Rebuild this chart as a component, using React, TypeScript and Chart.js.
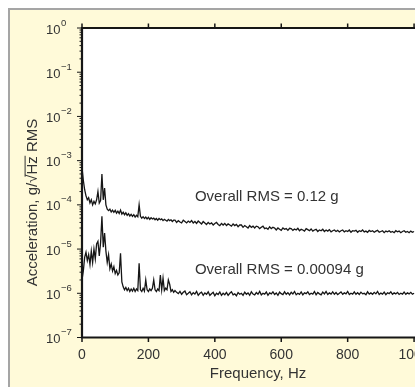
import React, { useEffect, useRef } from "react";
import { Chart, registerables } from "chart.js";

Chart.register(...registerables);

// Frequency axis (Hz)
const freqHz = [
  0, 4, 8, 12, 16, 20, 24, 28, 32, 36,
  40, 44, 48, 52, 56, 60, 64, 68, 72, 76,
  80, 84, 88, 92, 96, 100, 104, 108, 112, 116,
  120, 124, 128, 132, 136, 140, 144, 148, 152, 156,
  160, 164, 168, 172, 176, 180, 184, 188, 192, 196,
  200, 204, 208, 212, 216, 220, 224, 228, 232, 236,
  240, 244, 248, 252, 256, 260, 264, 268, 272, 276,
  280, 285, 290, 295, 300, 305, 310, 315, 320, 325,
  330, 335, 340, 345, 350, 355, 360, 365, 370, 375,
  380, 385, 390, 395, 400, 405, 410, 415, 420, 425,
  430, 435, 440, 445, 450, 455, 460, 465, 470, 475,
  480, 485, 490, 495, 500, 505, 510, 515, 520, 525,
  530, 535, 540, 545, 550, 555, 560, 565, 570, 575,
  580, 585, 590, 595, 600, 605, 610, 615, 620, 625,
  630, 635, 640, 645, 650, 655, 660, 665, 670, 675,
  680, 685, 690, 695, 700, 705, 710, 715, 720, 725,
  730, 735, 740, 745, 750, 755, 760, 765, 770, 775,
  780, 785, 790, 795, 800, 805, 810, 815, 820, 825,
  830, 835, 840, 845, 850, 855, 860, 865, 870, 875,
  880, 885, 890, 895, 900, 905, 910, 915, 920, 925,
  930, 935, 940, 945, 950, 955, 960, 965, 970, 975,
  980, 985, 990, 995, 1000,
];

// Upper spectrum (Overall RMS = 0.12 g), g/sqrt(Hz)
const upperAsd = [
  7.0e-4, 3.6e-4, 2.2e-4, 1.6e-4, 1.3e-4, 1.45e-4, 1.1e-4, 1.3e-4, 1.0e-4, 1.2e-4,
  1.05e-4, 1.3e-4, 2.0e-4, 1.1e-4, 1.25e-4, 5.0e-4, 1.3e-4, 2.4e-4, 1.0e-4, 8.0e-5,
  7.4e-5, 8.0e-5, 6.9e-5, 7.6e-5, 6.8e-5, 7.5e-5, 6.5e-5, 7.2e-5, 6.4e-5, 7.6e-5,
  6.2e-5, 6.8e-5, 6.0e-5, 6.6e-5, 5.8e-5, 6.3e-5, 5.6e-5, 6.1e-5, 5.5e-5, 6.0e-5,
  5.3e-5, 5.8e-5, 5.4e-5, 1.0e-4, 5.5e-5, 5.0e-5, 5.4e-5, 4.9e-5, 5.3e-5, 4.8e-5,
  5.2e-5, 4.7e-5, 5.1e-5, 4.8e-5, 5.0e-5, 4.6e-5, 4.9e-5, 4.5e-5, 4.9e-5, 4.6e-5,
  4.8e-5, 4.4e-5, 4.7e-5, 4.5e-5, 4.3e-5, 4.7e-5, 4.4e-5, 4.6e-5, 4.2e-5, 4.5e-5,
  4.5e-5, 4.0e-5, 4.4e-5, 4.1e-5, 3.9e-5, 4.5e-5, 4.2e-5, 3.9e-5, 4.3e-5, 4.0e-5,
  4.4e-5, 3.9e-5, 4.2e-5, 3.8e-5, 4.3e-5, 4.0e-5, 3.7e-5, 4.2e-5, 3.9e-5, 3.6e-5,
  4.0e-5, 3.7e-5, 3.9e-5, 3.5e-5, 3.8e-5, 4.0e-5, 3.6e-5, 3.4e-5, 3.8e-5, 3.5e-5,
  3.8e-5, 3.4e-5, 3.7e-5, 3.5e-5, 3.3e-5, 3.7e-5, 3.4e-5, 3.6e-5, 3.2e-5, 3.5e-5,
  3.5e-5, 3.1e-5, 3.4e-5, 3.2e-5, 3.0e-5, 3.4e-5, 3.1e-5, 3.3e-5, 3.0e-5, 3.3e-5,
  3.2e-5, 2.9e-5, 3.1e-5, 3.3e-5, 2.9e-5, 3.0e-5, 2.8e-5, 3.2e-5, 2.9e-5, 3.1e-5,
  3.0e-5, 2.7e-5, 3.0e-5, 2.8e-5, 2.65e-5, 3.0e-5, 2.8e-5, 2.9e-5, 2.65e-5, 2.95e-5,
  2.9e-5, 2.65e-5, 2.85e-5, 2.7e-5, 2.95e-5, 2.6e-5, 2.8e-5, 2.7e-5, 2.55e-5, 2.9e-5,
  2.75e-5, 2.6e-5, 2.85e-5, 2.55e-5, 2.7e-5, 2.8e-5, 2.5e-5, 2.7e-5, 2.6e-5, 2.8e-5,
  2.5e-5, 2.7e-5, 2.55e-5, 2.75e-5, 2.45e-5, 2.6e-5, 2.7e-5, 2.5e-5, 2.65e-5, 2.45e-5,
  2.6e-5, 2.7e-5, 2.45e-5, 2.6e-5, 2.5e-5, 2.7e-5, 2.4e-5, 2.6e-5, 2.55e-5, 2.65e-5,
  2.4e-5, 2.6e-5, 2.5e-5, 2.7e-5, 2.45e-5, 2.55e-5, 2.4e-5, 2.65e-5, 2.5e-5, 2.6e-5,
  2.4e-5, 2.55e-5, 2.65e-5, 2.4e-5, 2.5e-5, 2.6e-5, 2.35e-5, 2.55e-5, 2.45e-5, 2.6e-5,
  2.4e-5, 2.5e-5, 2.35e-5, 2.6e-5, 2.45e-5, 2.55e-5, 2.35e-5, 2.5e-5, 2.6e-5, 2.4e-5,
  2.5e-5, 2.35e-5, 2.55e-5, 2.4e-5, 2.5e-5,
];

// Lower spectrum (Overall RMS = 0.00094 g), g/sqrt(Hz)
const lowerAsd = [
  2.0e-6, 3.2e-6, 6.5e-6, 8.5e-6, 5.5e-6, 7.5e-6, 4.5e-6, 9.0e-6, 5.0e-6, 1.0e-5,
  6.0e-6, 1.3e-5, 1.5e-5, 7.0e-6, 1.4e-5, 5.5e-5, 1.1e-5, 2.3e-5, 9.0e-6, 5.0e-6,
  7.5e-6, 3.6e-6, 4.6e-6, 3.2e-6, 4.0e-6, 2.8e-6, 3.3e-6, 2.6e-6, 2.9e-6, 8.0e-6,
  1.8e-6, 1.4e-6, 1.2e-6, 1.35e-6, 1.15e-6, 1.3e-6, 1.1e-6, 1.25e-6, 1.12e-6, 1.3e-6,
  1.1e-6, 1.25e-6, 1.15e-6, 4.8e-6, 1.2e-6, 1.1e-6, 1.3e-6, 1.12e-6, 2.0e-6, 1.2e-6,
  1.1e-6, 1.25e-6, 1.15e-6, 1.3e-6, 2.0e-6, 1.2e-6, 1.1e-6, 1.25e-6, 1.15e-6, 2.6e-6,
  1.2e-6, 2.2e-6, 1.15e-6, 1.3e-6, 1.2e-6, 2.0e-6, 1.6e-6, 1.1e-6, 1.2e-6, 1.05e-6,
  1.15e-6, 1.05e-6, 0.98e-6, 1.1e-6, 0.95e-6, 1.05e-6, 1.12e-6, 0.93e-6, 1.0e-6, 1.08e-6,
  0.92e-6, 1.03e-6, 0.96e-6, 1.1e-6, 0.9e-6, 1.0e-6, 1.06e-6, 0.9e-6, 1.02e-6, 0.95e-6,
  1.08e-6, 0.9e-6, 0.98e-6, 1.05e-6, 0.88e-6, 1.0e-6, 0.94e-6, 1.07e-6, 0.9e-6, 1.0e-6,
  0.93e-6, 1.05e-6, 0.9e-6, 1.0e-6, 1.08e-6, 0.92e-6, 0.97e-6, 0.88e-6, 1.04e-6, 0.95e-6,
  1.0e-6, 0.9e-6, 1.06e-6, 0.95e-6, 1.02e-6, 0.9e-6, 1.08e-6, 0.96e-6, 0.92e-6, 1.04e-6,
  0.95e-6, 1.1e-6, 0.92e-6, 1.0e-6, 0.96e-6, 1.07e-6, 0.9e-6, 1.02e-6, 0.97e-6, 1.08e-6,
  0.94e-6, 1.02e-6, 0.9e-6, 1.06e-6, 0.98e-6, 0.93e-6, 1.08e-6, 0.95e-6, 1.03e-6, 0.92e-6,
  1.05e-6, 0.96e-6, 1.1e-6, 0.93e-6, 1.0e-6, 0.95e-6, 1.07e-6, 0.92e-6, 1.02e-6, 0.98e-6,
  1.08e-6, 0.94e-6, 1.0e-6, 0.96e-6, 1.1e-6, 0.93e-6, 1.04e-6, 0.97e-6, 0.92e-6, 1.06e-6,
  0.97e-6, 1.1e-6, 0.94e-6, 1.02e-6, 0.96e-6, 1.08e-6, 0.95e-6, 1.04e-6, 0.93e-6, 1.0e-6,
  1.07e-6, 0.95e-6, 1.02e-6, 0.97e-6, 1.1e-6, 0.94e-6, 1.0e-6, 0.96e-6, 1.08e-6, 0.95e-6,
  1.03e-6, 0.94e-6, 1.06e-6, 0.97e-6, 1.0e-6, 0.93e-6, 1.08e-6, 0.96e-6, 1.02e-6, 0.95e-6,
  1.05e-6, 0.97e-6, 1.1e-6, 0.94e-6, 1.01e-6, 0.96e-6, 1.06e-6, 0.93e-6, 1.03e-6, 0.98e-6,
  1.08e-6, 0.95e-6, 1.02e-6, 0.97e-6, 1.05e-6, 0.94e-6, 1.0e-6, 0.96e-6, 1.07e-6, 0.95e-6,
  1.02e-6, 0.97e-6, 1.05e-6, 0.95e-6, 1.0e-6,
];

const xTickValues = [0, 200, 400, 600, 800, 1000];
const yTickValues = [1, 1e-1, 1e-2, 1e-3, 1e-4, 1e-5, 1e-6, 1e-7];
const yTickExponents = ["0", "\u22121", "\u22122", "\u22123", "\u22124", "\u22125", "\u22126", "\u22127"];
const yMinorSteps = [2, 3, 4, 5, 6, 7, 8, 9];

const annotationTexts = ["Overall RMS = 0.12 g", "Overall RMS = 0.00094 g"];
const annotationX = [340, 340];
const annotationY = [1.2e-4, 2.8e-6];

const xTitle = "Frequency, Hz";
const yTitleParts = ["Acceleration, g/", "\u221A", "Hz", " RMS"];

const FONT = "'Liberation Sans', Arial, Helvetica, sans-serif";
const TEXT = "#333333";
const INK = "#161616";

export default function App() {
  const ref = useRef<HTMLCanvasElement>(null);

  useEffect(() => {
    const canvas = ref.current;
    if (!canvas) return;

    const decor = {
      id: "decor",
      beforeDraw(chart: any) {
        const { ctx, chartArea: a } = chart;
        ctx.save();
        ctx.fillStyle = "#ffffff";
        ctx.fillRect(a.left, a.top, a.right - a.left, a.bottom - a.top);
        ctx.restore();
      },
      afterDraw(chart: any) {
        const { ctx, chartArea: a, scales } = chart;
        const xs = scales.x;
        const ys = scales.y;
        ctx.save();
        ctx.strokeStyle = INK;

        // y ticks (major + minor, outward)
        ctx.lineWidth = 1;
        yTickValues.forEach((v, i) => {
          const py = ys.getPixelForValue(v);
          ctx.beginPath();
          ctx.moveTo(a.left - 5, py);
          ctx.lineTo(a.left, py);
          ctx.stroke();
          if (i > 0) {
            yMinorSteps.forEach((m) => {
              const pm = ys.getPixelForValue(m * v);
              ctx.beginPath();
              ctx.moveTo(a.left - 2.5, pm);
              ctx.lineTo(a.left, pm);
              ctx.stroke();
            });
          }
        });

        // x ticks (bottom and top, outward)
        ctx.lineWidth = 1.5;
        xTickValues.forEach((v) => {
          const px = xs.getPixelForValue(v);
          ctx.beginPath();
          ctx.moveTo(px, a.bottom);
          ctx.lineTo(px, a.bottom + 4.5);
          ctx.moveTo(px, a.top);
          ctx.lineTo(px, a.top - 4.5);
          ctx.stroke();
        });

        // frame
        ctx.lineWidth = 2.2;
        ctx.beginPath();
        ctx.moveTo(a.right, a.top);
        ctx.lineTo(a.left, a.top);
        ctx.lineTo(a.left, a.bottom);
        ctx.lineTo(a.right, a.bottom);
        ctx.stroke();

        ctx.fillStyle = TEXT;
        // y tick labels
        ctx.textAlign = "left";
        ctx.textBaseline = "alphabetic";
        yTickValues.forEach((v, i) => {
          const py = ys.getPixelForValue(v);
          ctx.font = `13px ${FONT}`;
          const w = ctx.measureText("10").width;
          ctx.fillText("10", 36, py + 5.5);
          ctx.font = `9.5px ${FONT}`;
          ctx.fillText(yTickExponents[i], 36 + w + 0.5, py - 2.5);
        });

        // x tick labels
        ctx.textAlign = "center";
        ctx.font = `14px ${FONT}`;
        xTickValues.forEach((v) => {
          ctx.fillText(String(v), xs.getPixelForValue(v), a.bottom + 21.8);
        });

        // x title
        ctx.font = `15px ${FONT}`;
        ctx.fillText(xTitle, (a.left + a.right) / 2, a.bottom + 40.8);

        // y title (rotated)
        ctx.save();
        ctx.translate(22, 192.5);
        ctx.rotate(-Math.PI / 2);
        ctx.font = `15px ${FONT}`;
        ctx.textAlign = "left";
        const widths = yTitleParts.map((p) => ctx.measureText(p).width);
        const total = widths.reduce((s, w) => s + w, 0);
        let cx = -total / 2;
        const base = 5.4;
        yTitleParts.forEach((p, i) => {
          ctx.fillText(p, cx, base);
          if (i === 2) {
            ctx.strokeStyle = TEXT;
            ctx.lineWidth = 1;
            ctx.beginPath();
            ctx.moveTo(cx - widths[1] * 0.25, base - 12.3);
            ctx.lineTo(cx + widths[2] + 0.5, base - 12.3);
            ctx.stroke();
          }
          cx += widths[i];
        });
        ctx.restore();

        // annotations
        ctx.textAlign = "left";
        ctx.font = `15px ${FONT}`;
        annotationTexts.forEach((t, i) => {
          ctx.fillText(t, xs.getPixelForValue(annotationX[i]), ys.getPixelForValue(annotationY[i]));
        });

        ctx.restore();
      },
    };

    const chart = new Chart(canvas, {
      type: "line",
      data: {
        datasets: [
          {
            data: freqHz.map((f, i) => ({ x: f, y: upperAsd[i] })),
            borderColor: INK,
            borderWidth: 1.3,
            pointRadius: 0,
            tension: 0,
          },
          {
            data: freqHz.map((f, i) => ({ x: f, y: lowerAsd[i] })),
            borderColor: INK,
            borderWidth: 1.3,
            pointRadius: 0,
            tension: 0,
          },
        ],
      },
      options: {
        responsive: false,
        animation: false,
        devicePixelRatio: 1,
        events: [],
        layout: { padding: { left: 72, top: 18, right: 16, bottom: 49.5 } },
        plugins: {
          legend: { display: false },
          tooltip: { enabled: false },
        },
        scales: {
          x: { type: "linear", display: false, min: 0, max: 1060 },
          y: { type: "logarithmic", display: false, min: 1e-7, max: 1 },
        },
      },
      plugins: [decor],
    } as any);

    return () => chart.destroy();
  }, []);

  return (
    <div
      style={{
        position: "absolute",
        left: 8,
        top: 8,
        width: 407,
        height: 379,
        overflow: "hidden",
      }}
    >
      <div
        style={{
          borderLeft: "2px solid #a5a5a5",
          borderTop: "2px solid #a5a5a5",
          background: "#fffad9",
          width: 460,
          height: 400,
          boxSizing: "border-box",
        }}
      >
        <canvas ref={ref} width={440} height={377} style={{ display: "block" }} />
      </div>
    </div>
  );
}
